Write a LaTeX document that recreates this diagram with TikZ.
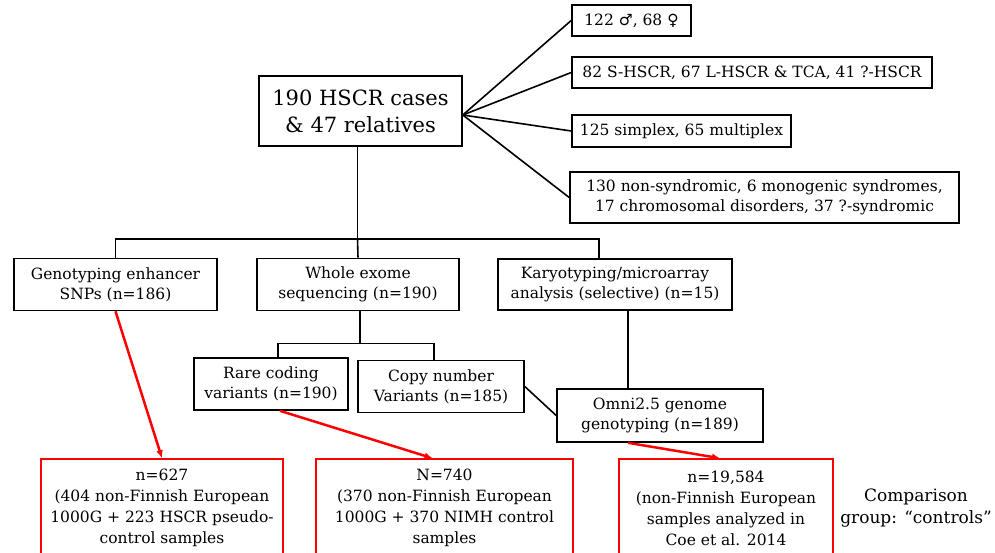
\documentclass[tikz,border=0pt]{standalone}
\usepackage{fontspec}
\setmainfont{DejaVu Serif}
\newfontfamily\symfont{DejaVu Sans}
\usetikzlibrary{arrows.meta, calc}

\begin{document}
\begin{tikzpicture}[x=1pt, y=-1pt,
  box/.style={draw, line width=1.6pt, align=center, inner sep=0pt,
    font=\fontsize{15.5}{20}\selectfont},
  ctrlbox/.style={draw=red, line width=1.6pt, align=center, inner sep=0pt,
    font=\fontsize{15.5}{21}\selectfont},
  link/.style={line width=1.6pt},
  redlink/.style={red, line width=2.5pt, -{Latex[length=8pt, width=7pt]}}]
  \clip (0,0) rectangle (995,552);

  % Cohort
  \node[box, minimum width=203, minimum height=70, font=\fontsize{21}{27}\selectfont] (main) at (360.5,111) {190 HSCR cases\\\& 47 relatives};

  % Cohort description
  \node[box, minimum width=119, minimum height=31] (sex) at (631.5,20.5) {122 {\symfont ♂}, 68 {\symfont ♀}};
  \node[box, minimum width=360, minimum height=31] (type) at (752,72.5) {82 S-HSCR, 67 L-HSCR \& TCA, 41 ?-HSCR};
  \node[box, minimum width=219, minimum height=32] (fam) at (681.5,131) {125 simplex, 65 multiplex};
  \node[box, minimum width=389, minimum height=51] (synd) at (764.5,197.5) {130 non-syndromic, 6 monogenic syndromes,\\17 chromosomal disorders, 37 ?-syndromic};

  \draw[link] ([yshift=-4pt]main.east) -- (sex.west);
  \draw[link] ([yshift=-4pt]main.east) -- (type.west);
  \draw[link] ([yshift=-4pt]main.east) -- (fam.west);
  \draw[link] ([yshift=-4pt]main.east) -- (synd.west);

  % Methods
  \node[box, minimum width=203, minimum height=52] (gen) at (115.5,284.5) {Genotyping enhancer\\SNPs (n=186)};
  \node[box, minimum width=202, minimum height=52] (wes) at (358,284.5) {Whole exome\\sequencing (n=190)};
  \node[box, minimum width=234, minimum height=51] (kary) at (615,284.5) {Karyotyping/microarray\\analysis (selective) (n=15)};

  \coordinate (busA) at ($(main.south)+(-3,92)$);
  \draw[link] ([xshift=-3pt]main.south) -- (busA);
  \draw[link] (gen.north) |- (busA) -| ([xshift=-16pt]kary.north);
  \draw[link] (busA) -- (wes.north);

  % Exome analyses
  \node[box, minimum width=154, minimum height=52] (rare) at (271,384) {Rare coding\\variants (n=190)};
  \node[box, minimum width=166, minimum height=52] (cnv) at (441,386.5) {Copy number\\Variants (n=185)};
  \node[box, minimum width=206, minimum height=53] (omni) at (660,415.5) {Omni2.5 genome\\genotyping (n=189)};

  \coordinate (busB) at ($(wes.south)+(2,32)$);
  \draw[link] ([xshift=2pt]wes.south) -- (busB);
  \draw[link] ([xshift=7pt]rare.north) |- (busB) -| ([xshift=-7pt]cnv.north);
  \draw[link] (cnv.east) -- (omni.west);
  \draw[link] ([xshift=13pt]kary.south) -- ([xshift=-32pt]omni.north);

  % Controls
  \node[ctrlbox, minimum width=242, minimum height=98] (ctrlA) at (162,508) {n=627\\(404 non-Finnish European\\1000G + 223 HSCR pseudo-\\control samples};
  \node[ctrlbox, minimum width=257, minimum height=98] (ctrlB) at (444.5,508) {N=740\\(370 non-Finnish European\\1000G + 370 NIMH control\\samples};
  \node[ctrlbox, minimum width=214, minimum height=98] (ctrlC) at (726,508) {n=19,584\\(non-Finnish European\\samples analyzed in\\Coe et al. 2014};

  \draw[redlink] (gen.south) -- (ctrlA.north);
  \draw[redlink] ([xshift=9pt]rare.south) -- ([xshift=-12pt]ctrlB.north);
  \draw[redlink] ([xshift=-32pt]omni.south) -- ([xshift=-6pt]ctrlC.north);

  \node[align=center, font=\fontsize{17}{22}\selectfont] (cmp) at (916,508) {Comparison\\group: “controls”};
\end{tikzpicture}
\end{document}
